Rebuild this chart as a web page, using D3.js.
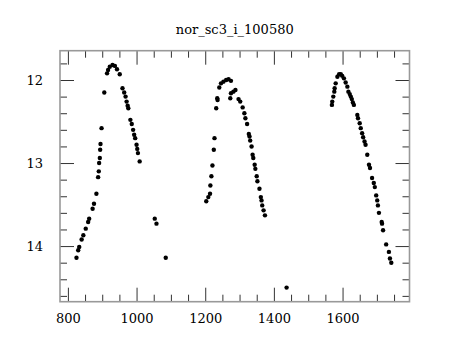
<!DOCTYPE html>
<html>
<head>
<meta charset="utf-8">
<script src="https://cdn.jsdelivr.net/npm/d3@7"></script>
<style>
  html, body { margin: 0; padding: 0; background: #fff; }
  svg { display: block; }
  text { font-family: "DejaVu Serif", "Liberation Serif", serif; }
</style>
</head>
<body>
<svg id="chart" width="460" height="340"></svg>
<script>
const title = "nor_sc3_i_100580";

const jd = [
  825, 830, 833, 840, 845, 852, 859, 862, 872, 876, 883, 888, 890, 891, 893, 894, 895, 898, 906,
  914, 917, 922, 930, 937, 943, 951,
  959, 964, 968, 971, 974, 976, 982, 986, 990, 993, 996, 1000, 1002, 1004, 1009,
  1053, 1058, 1085,
  1203, 1209, 1214, 1215, 1218, 1221, 1225, 1227, 1232, 1235, 1236,
  1241, 1246, 1253, 1261, 1268, 1275,
  1275, 1273, 1282, 1288, 1297, 1302, 1309, 1314, 1317, 1322, 1327, 1329, 1331, 1335, 1338,
  1340, 1344, 1346, 1350, 1352, 1358, 1362, 1364, 1366, 1370, 1374,
  1437,
  1569, 1570, 1573, 1576, 1577, 1580, 1585, 1590, 1595, 1599, 1604,
  1609, 1614, 1617, 1621, 1624, 1627, 1630, 1633, 1643, 1645, 1650, 1653, 1657, 1660, 1664, 1667,
  1672, 1677, 1680, 1686, 1691, 1694, 1698, 1701, 1703, 1706, 1714, 1715, 1718, 1727, 1735, 1738, 1742
];
const mag = [
  14.14, 14.05, 14.01, 13.92, 13.87, 13.79, 13.71, 13.67, 13.55, 13.49, 13.37, 13.17, 13.10, 13.00, 12.94, 12.84, 12.77, 12.58, 12.15,
  11.92, 11.88, 11.84, 11.82, 11.83, 11.87, 11.93,
  12.10, 12.15, 12.20, 12.26, 12.31, 12.34, 12.48, 12.53, 12.60, 12.66, 12.70, 12.78, 12.83, 12.88, 12.98,
  13.67, 13.73, 14.14,
  13.46, 13.41, 13.37, 13.27, 13.16, 13.03, 12.84, 12.70, 12.34, 12.22, 12.24,
  12.09, 12.04, 12.02, 12.00, 11.99, 12.01,
  12.16, 12.22, 12.14, 12.12, 12.23, 12.26, 12.33, 12.40, 12.46, 12.53, 12.65, 12.68, 12.73, 12.80, 12.90,
  12.94, 13.02, 13.07, 13.16, 13.22, 13.31, 13.41, 13.45, 13.51, 13.57, 13.63,
  14.50,
  12.30, 12.26, 12.20, 12.14, 12.10, 12.04, 11.96, 11.93, 11.93, 11.95, 11.98,
  12.03, 12.08, 12.14, 12.17, 12.20, 12.23, 12.27, 12.30, 12.42, 12.46, 12.52, 12.58, 12.64, 12.69, 12.74, 12.78,
  12.90, 13.02, 13.06, 13.18, 13.24, 13.29, 13.39, 13.45, 13.51, 13.60, 13.71, 13.73, 13.81, 13.98, 14.07, 14.15, 14.20
];
const xTickLabels = [800, 1000, 1200, 1400, 1600];
const yTickLabels = [12, 13, 14];

const svg = d3.select("#chart");
const pL = 60, pR = 409.5, pT = 50.7, pB = 301.7;

const x = d3.scaleLinear().domain([777, 1795]).range([pL, pR]);
const y = d3.scaleLinear().domain([11.647, 14.67]).range([pT, pB]);

const xMinor = d3.range(800, 1795, 50);
const yMinor = d3.range(11.8, 14.65, 0.2).map(v => +v.toFixed(1));
const isMajorX = v => v % 200 === 0;
const isMajorY = v => Math.abs(v - Math.round(v)) < 1e-6;

const W = pR - pL, H = pB - pT;
const tickColor = "#333";
const majorLen = 14, minorLen = 7;

// bottom axis (ticks inward)
const gb = svg.append("g").attr("transform", `translate(0,${pB})`)
  .call(d3.axisBottom(x).tickValues(xMinor).tickSize(0)
    .tickFormat(d => xTickLabels.includes(d) ? d : ""));
gb.select(".domain").remove();
gb.selectAll(".tick line").remove();
gb.selectAll(".tick").append("line")
  .attr("y1", 0).attr("y2", d => -(isMajorX(d) ? majorLen : minorLen))
  .attr("stroke", tickColor).attr("stroke-width", 1);
gb.selectAll(".tick text").attr("y", 21).attr("dy", 0)
  .attr("font-size", 13).attr("fill", "#000").attr("font-family", "DejaVu Serif");

// top ticks
const gt = svg.append("g").attr("transform", `translate(0,${pT})`)
  .call(d3.axisTop(x).tickValues(xMinor).tickSize(0).tickFormat(""));
gt.select(".domain").remove();
gt.selectAll(".tick line").remove();
gt.selectAll(".tick").append("line")
  .attr("y1", 0).attr("y2", d => (isMajorX(d) ? majorLen : minorLen))
  .attr("stroke", tickColor).attr("stroke-width", 1);

// left axis
const gl = svg.append("g").attr("transform", `translate(${pL},0)`)
  .call(d3.axisLeft(y).tickValues(yMinor).tickSize(0)
    .tickFormat(d => isMajorY(d) && yTickLabels.includes(Math.round(d)) ? Math.round(d) : ""));
gl.select(".domain").remove();
gl.selectAll(".tick line").remove();
gl.selectAll(".tick").append("line")
  .attr("x1", 0).attr("x2", d => (isMajorY(d) ? majorLen : minorLen))
  .attr("stroke", tickColor).attr("stroke-width", 1);
gl.selectAll(".tick text").attr("x", -17).attr("dy", "0.36em")
  .attr("font-size", 13).attr("fill", "#000").attr("font-family", "DejaVu Serif");

// right ticks
const gr = svg.append("g").attr("transform", `translate(${pR},0)`)
  .call(d3.axisRight(y).tickValues(yMinor).tickSize(0).tickFormat(""));
gr.select(".domain").remove();
gr.selectAll(".tick line").remove();
gr.selectAll(".tick").append("line")
  .attr("x1", 0).attr("x2", d => -(isMajorY(d) ? majorLen : minorLen))
  .attr("stroke", tickColor).attr("stroke-width", 1);

// frame
svg.append("rect").attr("x", pL).attr("y", pT).attr("width", W).attr("height", H)
  .attr("fill", "none").attr("stroke", "#999").attr("stroke-width", 1.6);

// points
svg.append("g").selectAll("circle").data(jd.map((d, i) => [d, mag[i]]))
  .join("circle")
  .attr("cx", d => x(d[0])).attr("cy", d => y(d[1])).attr("r", 2.2).attr("fill", "#000");

// title
svg.append("text").attr("x", (pL + pR) / 2).attr("y", 34)
  .attr("text-anchor", "middle").attr("font-size", 13).attr("fill", "#000")
  .text(title);
</script>
</body>
</html>
